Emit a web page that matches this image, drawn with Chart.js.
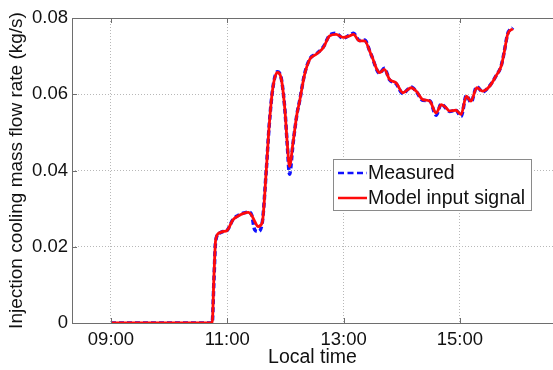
<!DOCTYPE html>
<html lang="en">
<head>
  <meta charset="UTF-8" />
  <title>Injection cooling mass flow rate</title>
  <script src="https://cdn.jsdelivr.net/npm/chart.js"></script>
  <style>
    html, body { margin: 0; padding: 0; background: #fff; overflow: hidden; }
    #wrap { width: 553px; height: 370px; }
  </style>
</head>
<body>
  <div id="wrap"><canvas id="flowChart" width="553" height="370"></canvas></div>

  <script>
    // local time in decimal hours
    const timeHours = [9.0, 9.5, 10.0, 10.5, 10.74, 10.77, 10.80, 10.87, 10.93, 10.99, 11.10, 11.20, 11.27, 11.36,
      11.42, 11.47, 11.53, 11.60, 11.67, 11.72, 11.78, 11.86, 11.93, 11.99, 12.03, 12.07, 12.13, 12.20, 12.24,
      12.33, 12.42, 12.53, 12.65, 12.76, 12.87, 12.99, 13.10, 13.17, 13.27, 13.36, 13.47, 13.62, 13.70, 13.79,
      13.90, 14.02, 14.16, 14.25, 14.36, 14.48, 14.59, 14.68, 14.76, 14.82, 14.93, 15.02, 15.11, 15.19, 15.29,
      15.39, 15.51, 15.62, 15.71, 15.76, 15.82, 15.91];

    const modelInput = [0, 0, 0, 0, 0, 0.012, 0.0218, 0.0237, 0.0240, 0.0242, 0.0271, 0.0282, 0.0287, 0.0290,
      0.0282, 0.0267, 0.0253, 0.0263, 0.0400, 0.0517, 0.0613, 0.0657, 0.0639, 0.0560, 0.0473, 0.0411, 0.0473,
      0.0550, 0.0579, 0.0652, 0.0692, 0.0705, 0.0722, 0.0753, 0.0757, 0.0749, 0.0753, 0.0757, 0.0740, 0.0740,
      0.0705, 0.0657, 0.0665, 0.0639, 0.0630, 0.0604, 0.0617, 0.0608, 0.0586, 0.0582, 0.0551, 0.0573, 0.0565,
      0.0556, 0.0558, 0.0547, 0.0595, 0.0582, 0.0617, 0.0608, 0.0621, 0.0648, 0.0674, 0.0709, 0.0757, 0.0772];

    const measured = [0, 0, 0, 0, 0, 0.011, 0.0215, 0.0236, 0.0240, 0.0242, 0.0272, 0.0283, 0.0288, 0.0291,
      0.0283, 0.0245, 0.0240, 0.0262, 0.0400, 0.0517, 0.0613, 0.0659, 0.0640, 0.0560, 0.0470, 0.0390, 0.0470,
      0.0550, 0.0580, 0.0654, 0.0693, 0.0706, 0.0724, 0.0755, 0.0760, 0.0747, 0.0755, 0.0760, 0.0741, 0.0742,
      0.0705, 0.0655, 0.0668, 0.0638, 0.0628, 0.0602, 0.0619, 0.0607, 0.0584, 0.0583, 0.0545, 0.0575, 0.0563,
      0.0555, 0.0558, 0.0542, 0.0597, 0.0579, 0.0620, 0.0606, 0.0622, 0.0648, 0.0675, 0.0710, 0.0758, 0.0775];

    const xTicks = [9, 11, 13, 15];
    const yTicks = [0, 0.02, 0.04, 0.06, 0.08];

    const hourLabel = h => String(Math.floor(h)).padStart(2, '0') + ':' + String(Math.round((h % 1) * 60)).padStart(2, '0');

    const FONT = "'Liberation Sans', Arial, sans-serif";

    // box round the plot, inside ticks, and the legend box
    const framePlugin = {
      id: 'frame',
      afterDraw(chart) {
        const { ctx, chartArea: a, scales } = chart;
        ctx.save();
        ctx.strokeStyle = '#6e6e6e';
        ctx.lineWidth = 1;
        ctx.beginPath();
        ctx.moveTo(a.right + 2, a.top + 0.5);
        ctx.lineTo(a.left + 0.5, a.top + 0.5);
        ctx.lineTo(a.left + 0.5, a.bottom + 0.5);
        ctx.lineTo(a.right + 2, a.bottom + 0.5);
        ctx.stroke();
        ctx.beginPath();
        xTicks.forEach(t => {
          const px = Math.round(scales.x.getPixelForValue(t)) + 0.5;
          ctx.moveTo(px, a.bottom);
          ctx.lineTo(px, a.bottom - 5);
          ctx.moveTo(px, a.top);
          ctx.lineTo(px, a.top + 5);
        });
        yTicks.forEach(v => {
          const py = Math.round(scales.y.getPixelForValue(v)) + 0.5;
          ctx.moveTo(a.left, py);
          ctx.lineTo(a.left + 5, py);
        });
        ctx.stroke();

        // legend
        const lx = 333.5, ly = 159.5, lw = 198, lh = 51;
        ctx.fillStyle = '#fff';
        ctx.fillRect(lx, ly, lw, lh);
        ctx.strokeStyle = '#8a8a8a';
        ctx.strokeRect(lx, ly, lw, lh);
        const order = [1, 0];
        order.forEach((di, i) => {
          const ds = chart.data.datasets[di];
          const y = 173 + i * 25;
          ctx.strokeStyle = ds.borderColor;
          ctx.lineWidth = 2.5;
          ctx.setLineDash(ds.borderDash ? [6, 3.5] : []);
          ctx.beginPath();
          ctx.moveTo(338, y);
          ctx.lineTo(367, y);
          ctx.stroke();
          ctx.setLineDash([]);
          ctx.fillStyle = '#111';
          ctx.font = '19.5px ' + FONT;
          ctx.textBaseline = 'middle';
          ctx.textAlign = 'left';
          ctx.fillText(ds.label, 368, y + 1);
        });
        ctx.restore();
      }
    };

    new Chart(document.getElementById('flowChart'), {
      type: 'line',
      data: {
        labels: timeHours,
        datasets: [
          {
            label: 'Model input signal',
            data: timeHours.map((t, i) => ({ x: t, y: modelInput[i] })),
            borderColor: '#ff0a0a',
            borderWidth: 2.8,
            pointRadius: 0,
            cubicInterpolationMode: 'monotone',
            order: 1
          },
          {
            label: 'Measured',
            data: timeHours.map((t, i) => ({ x: t, y: measured[i] })),
            borderColor: '#1010ff',
            borderWidth: 3.5,
            borderDash: [5, 3],
            pointRadius: 0,
            cubicInterpolationMode: 'monotone',
            order: 2
          }
        ]
      },
      options: {
        responsive: false,
        animation: false,
        layout: { padding: { top: 18, right: 0, left: 0, bottom: 0 } },
        plugins: { legend: { display: false }, tooltip: { enabled: false } },
        scales: {
          x: {
            type: 'linear',
            min: 8.33,
            max: 16.6,
            afterBuildTicks: s => { s.ticks = xTicks.map(v => ({ value: v })); },
            afterFit: s => { s.height = 47; },
            grid: { color: '#b8b8b8', lineWidth: 1, drawTicks: false },
            border: { display: false, dash: [1, 2] },
            ticks: {
              padding: 6,
              color: '#111',
              font: { family: FONT, size: 18.5 },
              callback: v => hourLabel(v)
            },
            title: {
              display: true,
              text: 'Local time',
              color: '#111',
              font: { family: FONT, size: 19.5, lineHeight: 1.2 },
              padding: { top: 0, bottom: 1 }
            }
          },
          y: {
            min: 0,
            max: 0.08,
            afterBuildTicks: s => { s.ticks = yTicks.map(v => ({ value: v })); },
            afterFit: s => { s.width = 72; },
            grid: { color: '#b8b8b8', lineWidth: 1, drawTicks: false },
            border: { display: false, dash: [1, 2] },
            ticks: {
              padding: 4,
              color: '#111',
              font: { family: FONT, size: 18.5 },
              callback: v => (v === 0 ? '0' : v.toFixed(2))
            },
            title: {
              display: true,
              text: 'Injection cooling mass flow rate (kg/s)',
              color: '#111',
              font: { family: FONT, size: 19, lineHeight: 1.2 },
              padding: { top: 5, bottom: 0 }
            }
          }
        }
      },
      plugins: [framePlugin]
    });
  </script>
</body>
</html>
